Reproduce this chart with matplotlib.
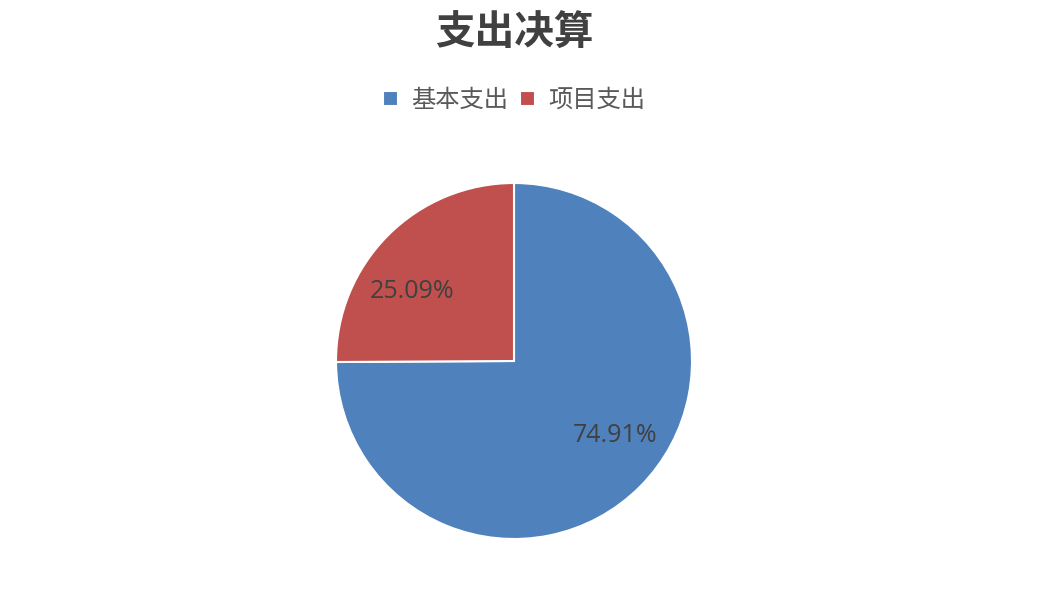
import matplotlib.pyplot as plt

# 数据
labels = ['基本支出', '项目支出']
values = [74.91, 25.09]
colors = ['#4F81BD', '#C0504D']

plt.rcParams['font.family'] = ['Noto Sans CJK SC', 'DejaVu Sans']

fig = plt.figure(figsize=(10.39, 5.94), dpi=100)

# 饼图区域: 中心约 (514, 361), 半径约 178 像素
W, H = 1039, 594
cx, cy, r = 514, 361, 178
ax = fig.add_axes([(cx - r) / W, (H - cy - r) / H, 2 * r / W, 2 * r / H])

wedges, texts, autotexts = ax.pie(values, colors=colors, startangle=90, counterclock=False,
                                  autopct='%.2f%%', pctdistance=0.7,
                                  wedgeprops={'edgecolor': 'white', 'linewidth': 1.5},
                                  textprops={'fontsize': 18, 'color': '#404040',
                                             'family': ['Open Sans', 'DejaVu Sans']})
# 百分比标签位置微调
autotexts[0].set_position((0.57, -0.42))
autotexts[1].set_position((-0.57, 0.39))
ax.set_xlim(-1.0, 1.0)
ax.set_ylim(-1.0, 1.0)
ax.set_aspect('equal')

# 标题
fig.text(cx / W, 1 - 33 / H, '支出决算', ha='center', va='center',
         fontsize=28.5, fontweight='bold', color='#404040')

# 图例
fig.legend(wedges, labels, loc='center', bbox_to_anchor=(cx / W, 1 - 100 / H),
           ncol=2, frameon=False, fontsize=17.5, labelcolor='#595959',
           handlelength=0.6, handleheight=0.6, handletextpad=0.55, columnspacing=0.5)

plt.savefig('out.png', dpi=100)
